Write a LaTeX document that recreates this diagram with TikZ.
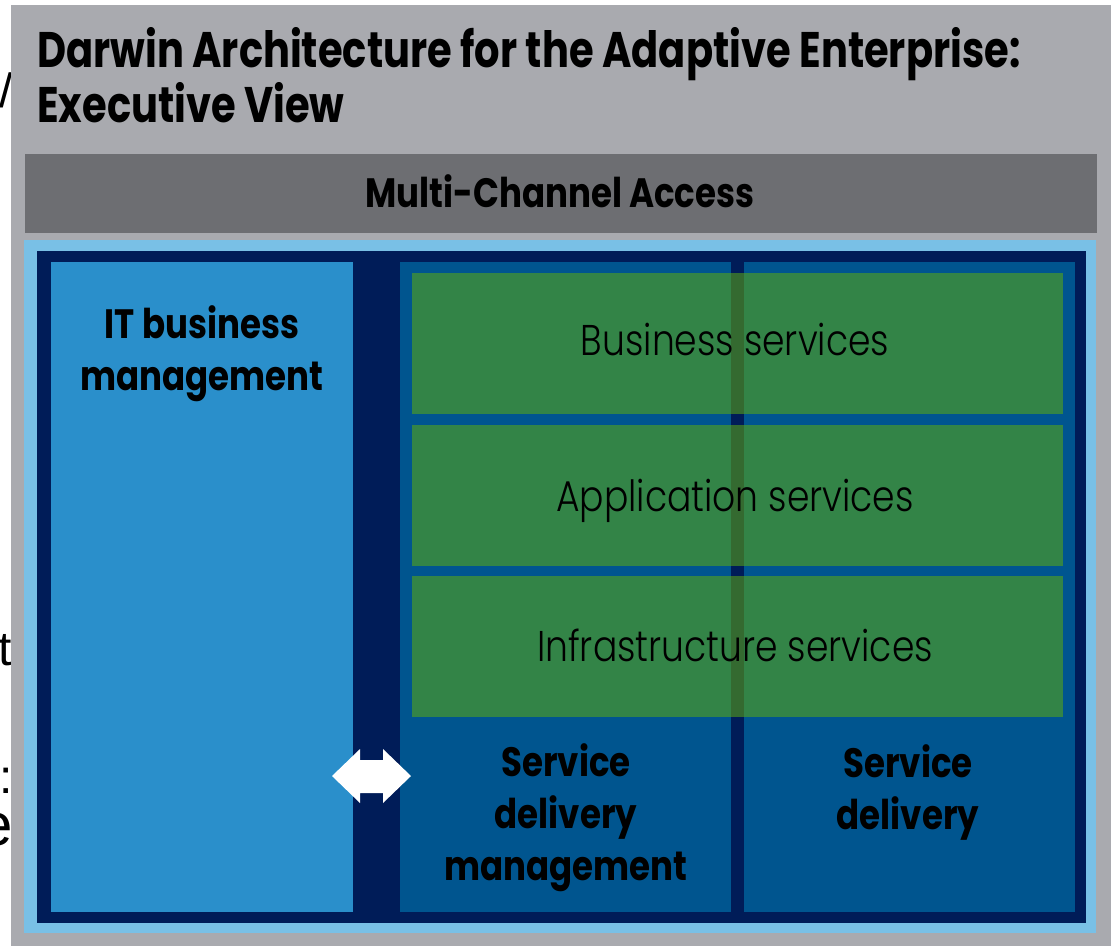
\documentclass[tikz,border=0pt]{standalone}
\usepackage{fontspec}
\setmainfont{Poppins}
\newfontfamily\titlefont[FakeStretch=0.8]{Poppins}
\newfontfamily\condfont[FakeStretch=0.83]{Poppins}
\newfontfamily\lightfont[FakeStretch=0.84]{Poppins Light}
\newfontfamily\fragfont{Liberation Sans}
\definecolor{framegray}{HTML}{A9AAAF}
\definecolor{bargray}{HTML}{6D6E72}
\definecolor{lightblue}{HTML}{79C0E6}
\definecolor{navy}{HTML}{001C58}
\definecolor{itblue}{HTML}{2A8FCB}
\definecolor{midblue}{HTML}{00558F}
\definecolor{svcgreen}{HTML}{338447}
\definecolor{darkgreen}{HTML}{346A30}
\tikzset{
  titletext/.style={font=\fontsize{50}{55}\titlefont\bfseries, anchor=base west, inner sep=0pt},
  boldlabel/.style={font=\fontsize{41}{52}\condfont\bfseries, align=center, inner sep=0pt, anchor=base},
  lightlabel/.style={font=\fontsize{43}{50}\lightfont, anchor=base, inner sep=0pt},
  frag/.style={font=\fontsize{48}{50}\fragfont, anchor=base east, inner sep=0pt},
}
\begin{document}
\begin{tikzpicture}[x=1pt,y=-1pt]
\useasboundingbox (0,0) rectangle (1113,946);
\fill[white] (0,0) rectangle (1113,946);
% stray fragments at the left edge
\begin{scope}
\clip (0,0) rectangle (11,946);
\node[frag] (f1) at (13,107) {5/};
\node[frag] (f2) at (12,665) {t};
\node[frag] (f3) at (13,793) {:};
\node[frag,font=\fontsize{60}{60}\fragfont] (f4) at (13,845) {e};
\end{scope}
% frames
\fill[framegray] (11,5) rectangle (1111,946);
\fill[bargray] (25,154) rectangle (1097,233);
\fill[lightblue] (24,240) rectangle (1096,933);
\fill[navy] (37,251) rectangle (1086,923);
\fill[itblue] (51,262) rectangle (353,912);
\fill[midblue] (400,262) rectangle (1075,912);
\fill[navy] (731,262) rectangle (744,912);
% green service boxes
\foreach \t/\b in {273/414, 425/566, 576/717}{
  \fill[svcgreen] (412,\t) rectangle (1063,\b);
  \fill[darkgreen] (731,\t) rectangle (744,\b);
}
% texts
\node[titletext] (title1) at (37,67) {Darwin Architecture for the Adaptive Enterprise:};
\node[titletext] (title2) at (37,122) {Executive View};
\node[boldlabel] (mca) at (560,207) {Multi-Channel Access};
\node[boldlabel] (itbm) at (202,390) {IT business\\management};
\node[lightlabel] (bs) at (735,355) {Business services};
\node[lightlabel] (as) at (735,511) {Application services};
\node[lightlabel] (is) at (735,661) {Infrastructure services};
\node[boldlabel] (sdm) at (566,880) {Service\\delivery\\management};
\node[boldlabel] (sd) at (908,829) {Service\\delivery};
% double arrow between IT business management and service delivery management
\coordinate (al) at (332,776);
\coordinate (ar) at (411,776);
\fill[white] (al) -- (360,749) -- (360,760) -- (383,760) -- (383,749) -- (ar)
  -- (383,803) -- (383,793) -- (360,793) -- (360,803) -- cycle;
\end{tikzpicture}
\end{document}
